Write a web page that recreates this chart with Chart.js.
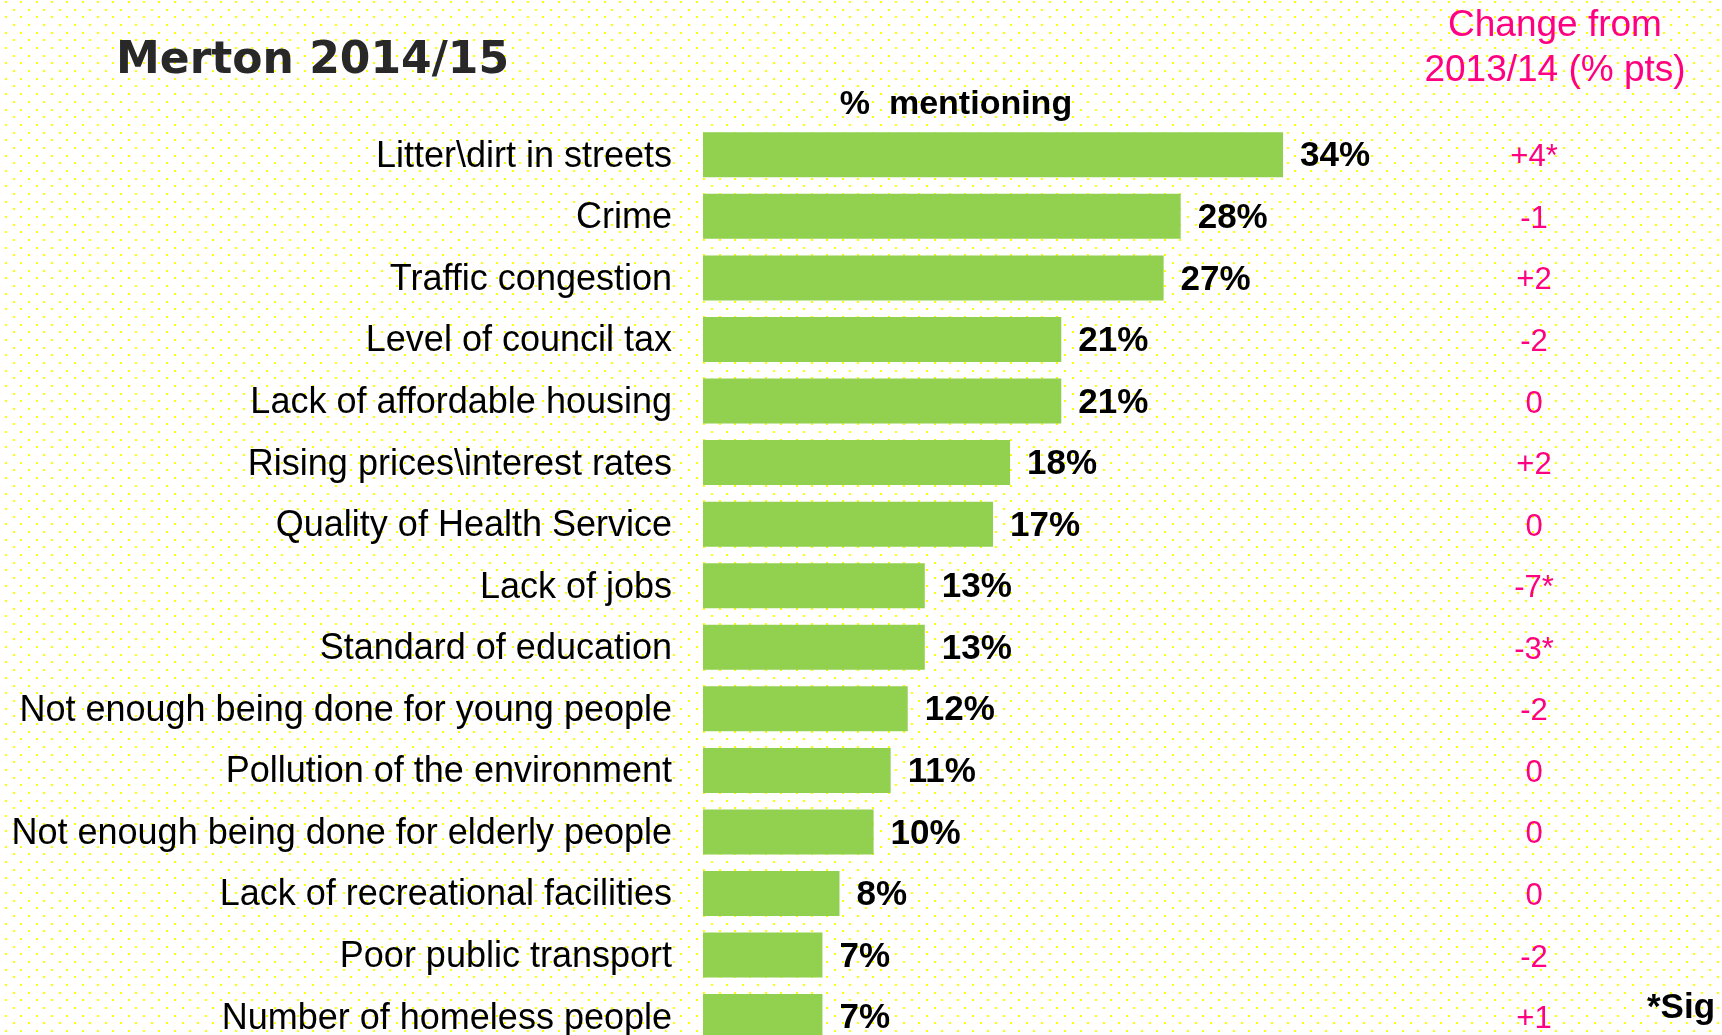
<!DOCTYPE html>
<html>
<head>
<meta charset="utf-8">
<script src="https://cdn.jsdelivr.net/npm/chart.js@4.4.1/dist/chart.umd.min.js"></script>
<style>
  html, body { margin: 0; padding: 0; overflow: hidden; background: #fff; }
  canvas { display: block; }
</style>
</head>
<body>
<!-- taller than the window on purpose: the last bar is cut off at the bottom, as in the slide -->
<canvas id="issues" width="1722" height="1100"></canvas>
<script>
// Merton 2014/15 - top local concerns
const categories = [
  "Litter\\dirt in streets",
  "Crime",
  "Traffic congestion",
  "Level of council tax",
  "Lack of affordable housing",
  "Rising prices\\interest rates",
  "Quality of Health Service",
  "Lack of jobs",
  "Standard of education",
  "Not enough being done for young people",
  "Pollution of the environment",
  "Not enough being done for elderly people",
  "Lack of recreational facilities",
  "Poor public transport",
  "Number of homeless people",
];
const mentioning = [34, 28, 27, 21, 21, 18, 17, 13, 13, 12, 11, 10, 8, 7, 7];
const changeFromLastYear = ["+4*", "-1", "+2", "-2", "0", "+2", "0", "-7*", "-3*", "-2", "0", "0", "0", "-2", "+1"];

const ARIAL = '"Liberation Sans", Arial, sans-serif';
const PINK = "rgb(255, 0, 128)";

// yellow dotted background, like the slide
const dottedBackground = {
  id: "dottedBackground",
  beforeDraw(chart) {
    const ctx = chart.ctx;
    ctx.save();
    ctx.fillStyle = "#ffffff";
    ctx.fillRect(0, 0, chart.width, chart.height);
    ctx.fillStyle = "rgb(255, 255, 0)";
    const dx = 15.35, dy = 7.68;
    let row = 0;
    for (let y = 2; y < chart.height; y += dy, row++) {
      const off = row % 2 === 0 ? 6 : 6 + dx / 2;
      for (let x = off; x < chart.width; x += dx) {
        ctx.fillRect(Math.round(x) - 1, Math.round(y) - 1, 2, 2);
      }
    }
    ctx.restore();
  },
};

// headings, value labels and the change column
const annotations = {
  id: "annotations",
  afterDatasetsDraw(chart) {
    const ctx = chart.ctx;
    const bars = chart.getDatasetMeta(0).data;
    ctx.save();

    ctx.fillStyle = "#282828";
    ctx.font = 'bold 44px "DejaVu Sans", Verdana, sans-serif';
    ctx.textAlign = "left";
    ctx.textBaseline = "alphabetic";
    ctx.fillText("Merton 2014/15", 116, 73);

    ctx.fillStyle = "#000";
    ctx.font = "bold 34px " + ARIAL;
    ctx.textAlign = "center";
    ctx.fillText("%  mentioning", 956, 114);

    ctx.fillStyle = PINK;
    ctx.font = "37px " + ARIAL;
    ctx.fillText("Change from", 1555, 36);
    ctx.fillText("2013/14 (% pts)", 1555, 81);

    ctx.textBaseline = "middle";
    bars.forEach((bar, i) => {
      ctx.fillStyle = "#000";
      ctx.font = "bold 35px " + ARIAL;
      ctx.textAlign = "left";
      ctx.fillText(mentioning[i] + "%", bar.x + 17, bar.y + 2);

      ctx.fillStyle = PINK;
      ctx.font = "31px " + ARIAL;
      ctx.textAlign = "center";
      ctx.fillText(changeFromLastYear[i], 1534, bar.y + 3);
    });

    ctx.fillStyle = "#000";
    ctx.font = "bold 35px " + ARIAL;
    ctx.textAlign = "left";
    ctx.textBaseline = "alphabetic";
    ctx.fillText("*Sig", 1647, 1018);

    ctx.restore();
  },
};

function createConcernsChart() {
  const ctx = document.getElementById("issues").getContext("2d");

  const data = {
    labels: categories,
    datasets: [
      {
        data: mentioning,
        backgroundColor: "rgb(146, 208, 80)",
        borderWidth: 0,
        barPercentage: 0.731,
        categoryPercentage: 1,
      },
    ],
  };

  const config = {
    type: "bar",
    data: data,
    plugins: [dottedBackground, annotations],
    options: {
      indexAxis: "y",
      responsive: false,
      animation: false,
      layout: {
        padding: { top: 124, right: 166, bottom: 0, left: 0 },
      },
      scales: {
        x: {
          display: false,
          min: 0,
          max: 50,
        },
        y: {
          grid: { display: false, drawTicks: false },
          border: { display: false },
          ticks: {
            color: "#000",
            padding: 31,
            labelOffset: 2,
            autoSkip: false,
            font: { family: ARIAL, size: 36 },
          },
          afterFit(scale) {
            scale.width = 703;
          },
        },
      },
      plugins: {
        legend: { display: false },
        tooltip: { enabled: false },
        title: { display: false },
      },
    },
  };

  const myChart = new Chart(ctx, config);
}

createConcernsChart();
</script>
</body>
</html>
